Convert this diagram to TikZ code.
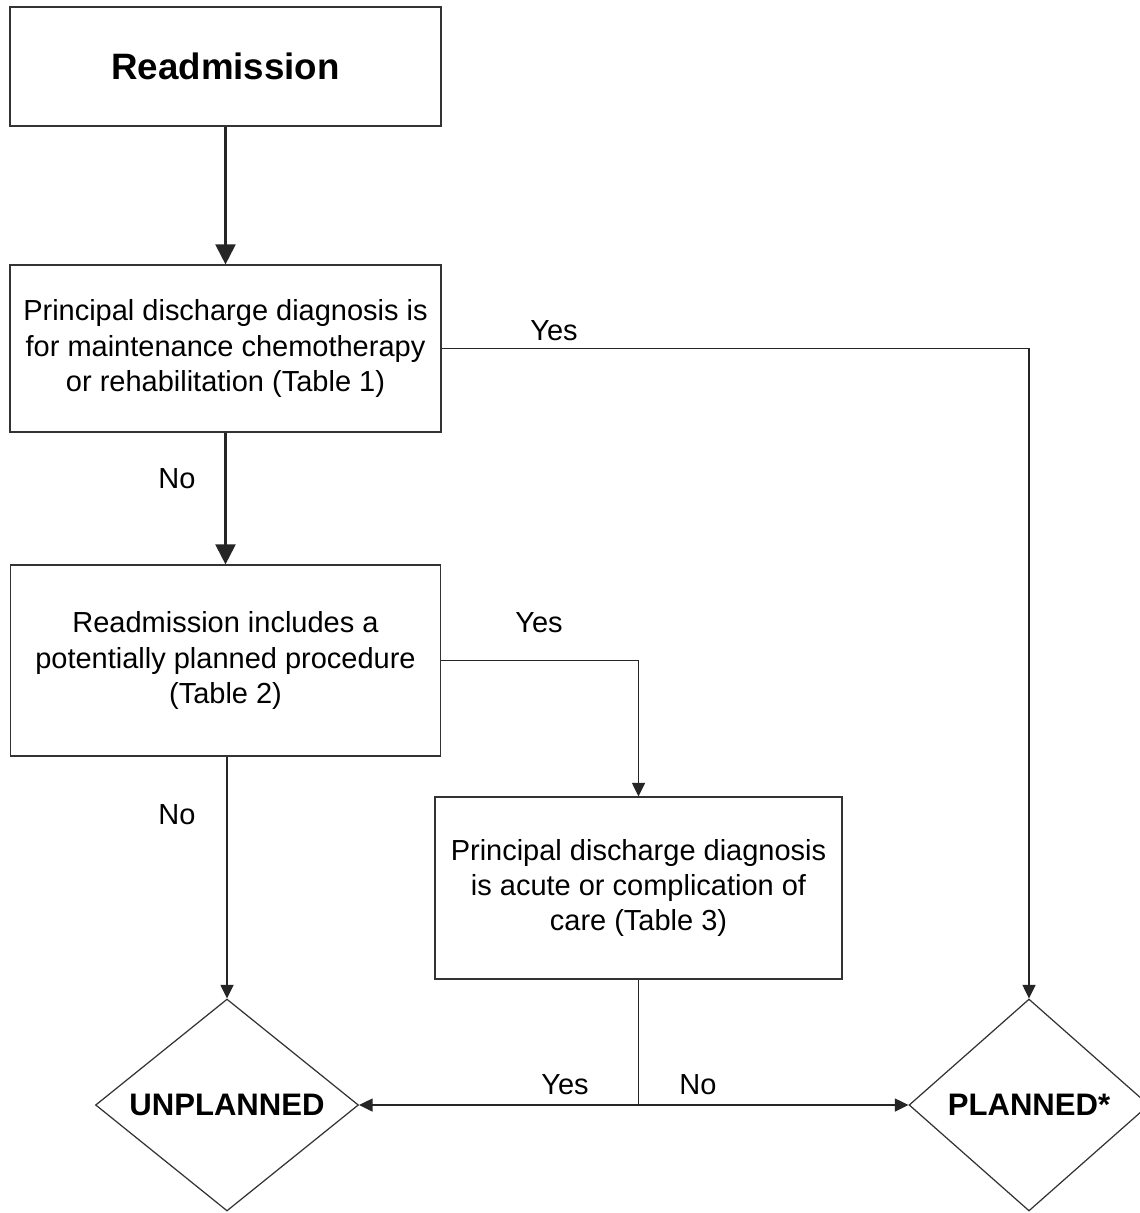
\documentclass[tikz,border=0pt]{standalone}
\usepackage{fontspec}
\setmainfont{Liberation Sans}
\usetikzlibrary{arrows.meta, shapes.geometric}

\begin{document}
\begin{tikzpicture}[x=0.02cm, y=-0.02cm,
		box/.style={draw=black!80, line width=0.7pt, align=center, inner sep=0pt, font=\fontsize{16.5}{20}\selectfont},
		endpt/.style={draw=black!80, line width=0.7pt, shape=diamond, inner sep=0pt, font=\fontsize{17.7}{20}\selectfont\bfseries},
		flow/.style={draw=black!85, line width=0.7pt, -{Triangle[length=0.27cm, width=0.26cm]}},
		flowthick/.style={draw=black!85, line width=1.2pt, -{Triangle[length=0.4cm, width=0.4cm]}},
		lbl/.style={font=\fontsize{16.5}{20}\selectfont, inner sep=0pt}]
			\path[use as bounding box, fill=white] (0,0) rectangle (1139,1213);

			% boxes
			\node[box, minimum width=8.62cm, minimum height=2.38cm, font=\fontsize{20.9}{24}\selectfont\bfseries] (readm) at (225.5,66.5) {Readmission};
			\node[box, minimum width=8.62cm, minimum height=3.34cm] (diag) at (225.5,348.5) {Principal discharge diagnosis is\\for maintenance chemotherapy\\or rehabilitation (Table 1)};
			\node[box, minimum width=8.6cm, minimum height=3.82cm] (proc) at (225.5,660.5) {Readmission includes a\\potentially planned procedure\\(Table 2)};
			\node[box, minimum width=8.14cm, minimum height=3.64cm] (acute) at (638.5,888) {Principal discharge diagnosis\\is acute or complication of\\care (Table 3)};

			% outcomes
			\node[endpt, aspect=1.24, minimum width=5.26cm, minimum height=4.24cm] (unpl) at (227,1105) {UNPLANNED};
			\node[endpt, aspect=1.13, minimum width=4.8cm, minimum height=4.24cm] (plan) at (1029,1105) {PLANNED*};

			% connectors
			\draw[flowthick] (readm) -- (diag);
			\draw[flow] (diag.east) -| (plan.north) node[lbl] at (554,331) {Yes};
			\draw[flowthick] (diag) -- (proc) node[lbl] at (177,479) {No};
			\draw[flow] (proc.east) -| (acute.north) node[lbl] at (539,623) {Yes};
			\draw[flow] (proc.south -| unpl.north) -- (unpl.north) node[lbl] at (177,815) {No};

			\coordinate (split) at (acute.south |- unpl.east);
			\draw[draw=black!85, line width=0.7pt] (acute.south) -- (split);
			\draw[flow] (split) -- (unpl.east) node[lbl] at (565,1085) {Yes};
			\draw[flow] (split) -- (plan.west) node[lbl] at (698,1085) {No};
		\end{tikzpicture}
\end{document}
